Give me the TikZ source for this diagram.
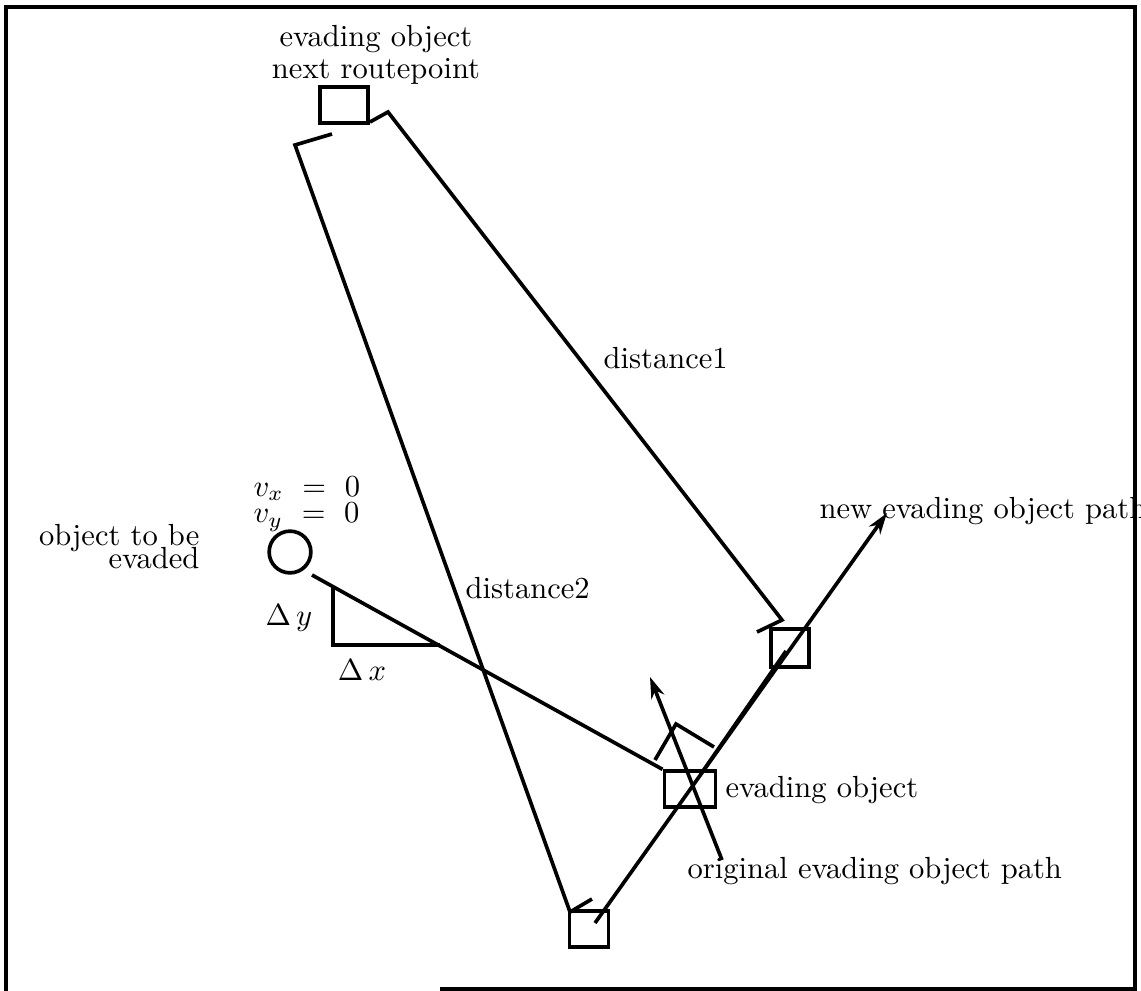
\documentclass[tikz,border=0pt]{standalone}
\usepackage{tikz}
\usetikzlibrary{
  arrows.meta,
  positioning
}

\begin{document}
\begin{tikzpicture}[
  x=0.0115cm, y=-0.0115cm,
  box/.style={draw, rectangle, line width=1.2pt, inner sep=0pt,
              minimum height=0.41cm},
  obj/.style={draw, circle, line width=1.2pt, inner sep=0pt, minimum size=0.48cm},
  lbl/.style={inner sep=0pt},
  trace/.style={draw, line width=1.2pt, line join=miter},
  arrowline/.style={trace, -{Stealth[length=7pt, width=4.5pt]}},
  frame/.style={draw, line width=1.4pt}
]

\useasboundingbox (0,0) rectangle (1141,991);

\draw[frame] (6,991) -- (6,7) -- (1135,7) -- (1135,991);
\draw[frame] (440,989) -- (1135,989);

\node[box, minimum width=0.55cm] (rp) at (344,105) {};
\node[box, minimum width=0.44cm, minimum height=0.43cm] (nxt) at (790,648) {};
\node[box, minimum width=0.59cm] (eo) at (690,789) {};
\node[box, minimum width=0.45cm] (st) at (589,929) {};
\node[obj] (ob) at (290,552) {};

\coordinate (d1a) at (370,122);
\coordinate (d1b) at (388,112);
\coordinate (d1c) at (782,620);
\coordinate (d1d) at (757,632);
\coordinate (d2a) at (332,134);
\coordinate (d2b) at (295,145);
\coordinate (d2c) at (570,912);
\coordinate (d2d) at (592,899);
\coordinate (ev) at (312,575);
\coordinate (dyt) at (333,587);
\coordinate (dyb) at (333,645);
\coordinate (dxr) at (440,645);
\coordinate (nps) at (595,923);
\coordinate (npe) at (887,513);
\coordinate (pls) at (703,771);
\coordinate (ple) at (786,651);
\coordinate (ops) at (722,860);
\coordinate (ope) at (650,677);
\coordinate (ang1) at (655,760);
\coordinate (ang2) at (676,724);
\coordinate (ang3) at (714,747);

\draw[trace] (d1a) -- (d1b) -- (d1c) -- (d1d);
\draw[trace] (d2a) -- (d2b) -- (d2c) -- (d2d);
\draw[trace] (ev) -- (eo.north west);
\draw[trace] (dyt) -- (dyb) -- (dxr);
\draw[arrowline] (nps) -- (npe);
\draw[trace] (pls) -- (ple);
\draw[arrowline] (ops) -- (ope);
\draw[trace] (ang1) -- (ang2) -- (ang3);

\node[lbl, anchor=north, align=center] (rplbl) at (376,25)
  {evading object\\[-1.6pt]next routepoint};
\node[lbl, anchor=north east, align=right] (oblbl) at (200,524)
  {object to be\\[-4.6pt]evaded};
\node[lbl, anchor=north west, align=left] (vlbl) at (253,476)
  {$v_x\ =\ 0$\\[-3.4pt]$v_y\ =\ 0$};
\node[lbl, anchor=base] (dylbl) at (289,625) {$\Delta\,y$};
\node[lbl, anchor=base] (dxlbl) at (362,680) {$\Delta\,x$};
\node[lbl, anchor=base west] (d1lbl) at (603,368) {distance1};
\node[lbl, anchor=base west] (d2lbl) at (465,598) {distance2};
\node[lbl, anchor=base west] (nplbl) at (819,518) {new evading object path};
\node[lbl, anchor=base west] (eolbl) at (725,797) {evading object};
\node[lbl, anchor=base west] (oplbl) at (687,878) {original evading object path};

\end{tikzpicture}
\end{document}
